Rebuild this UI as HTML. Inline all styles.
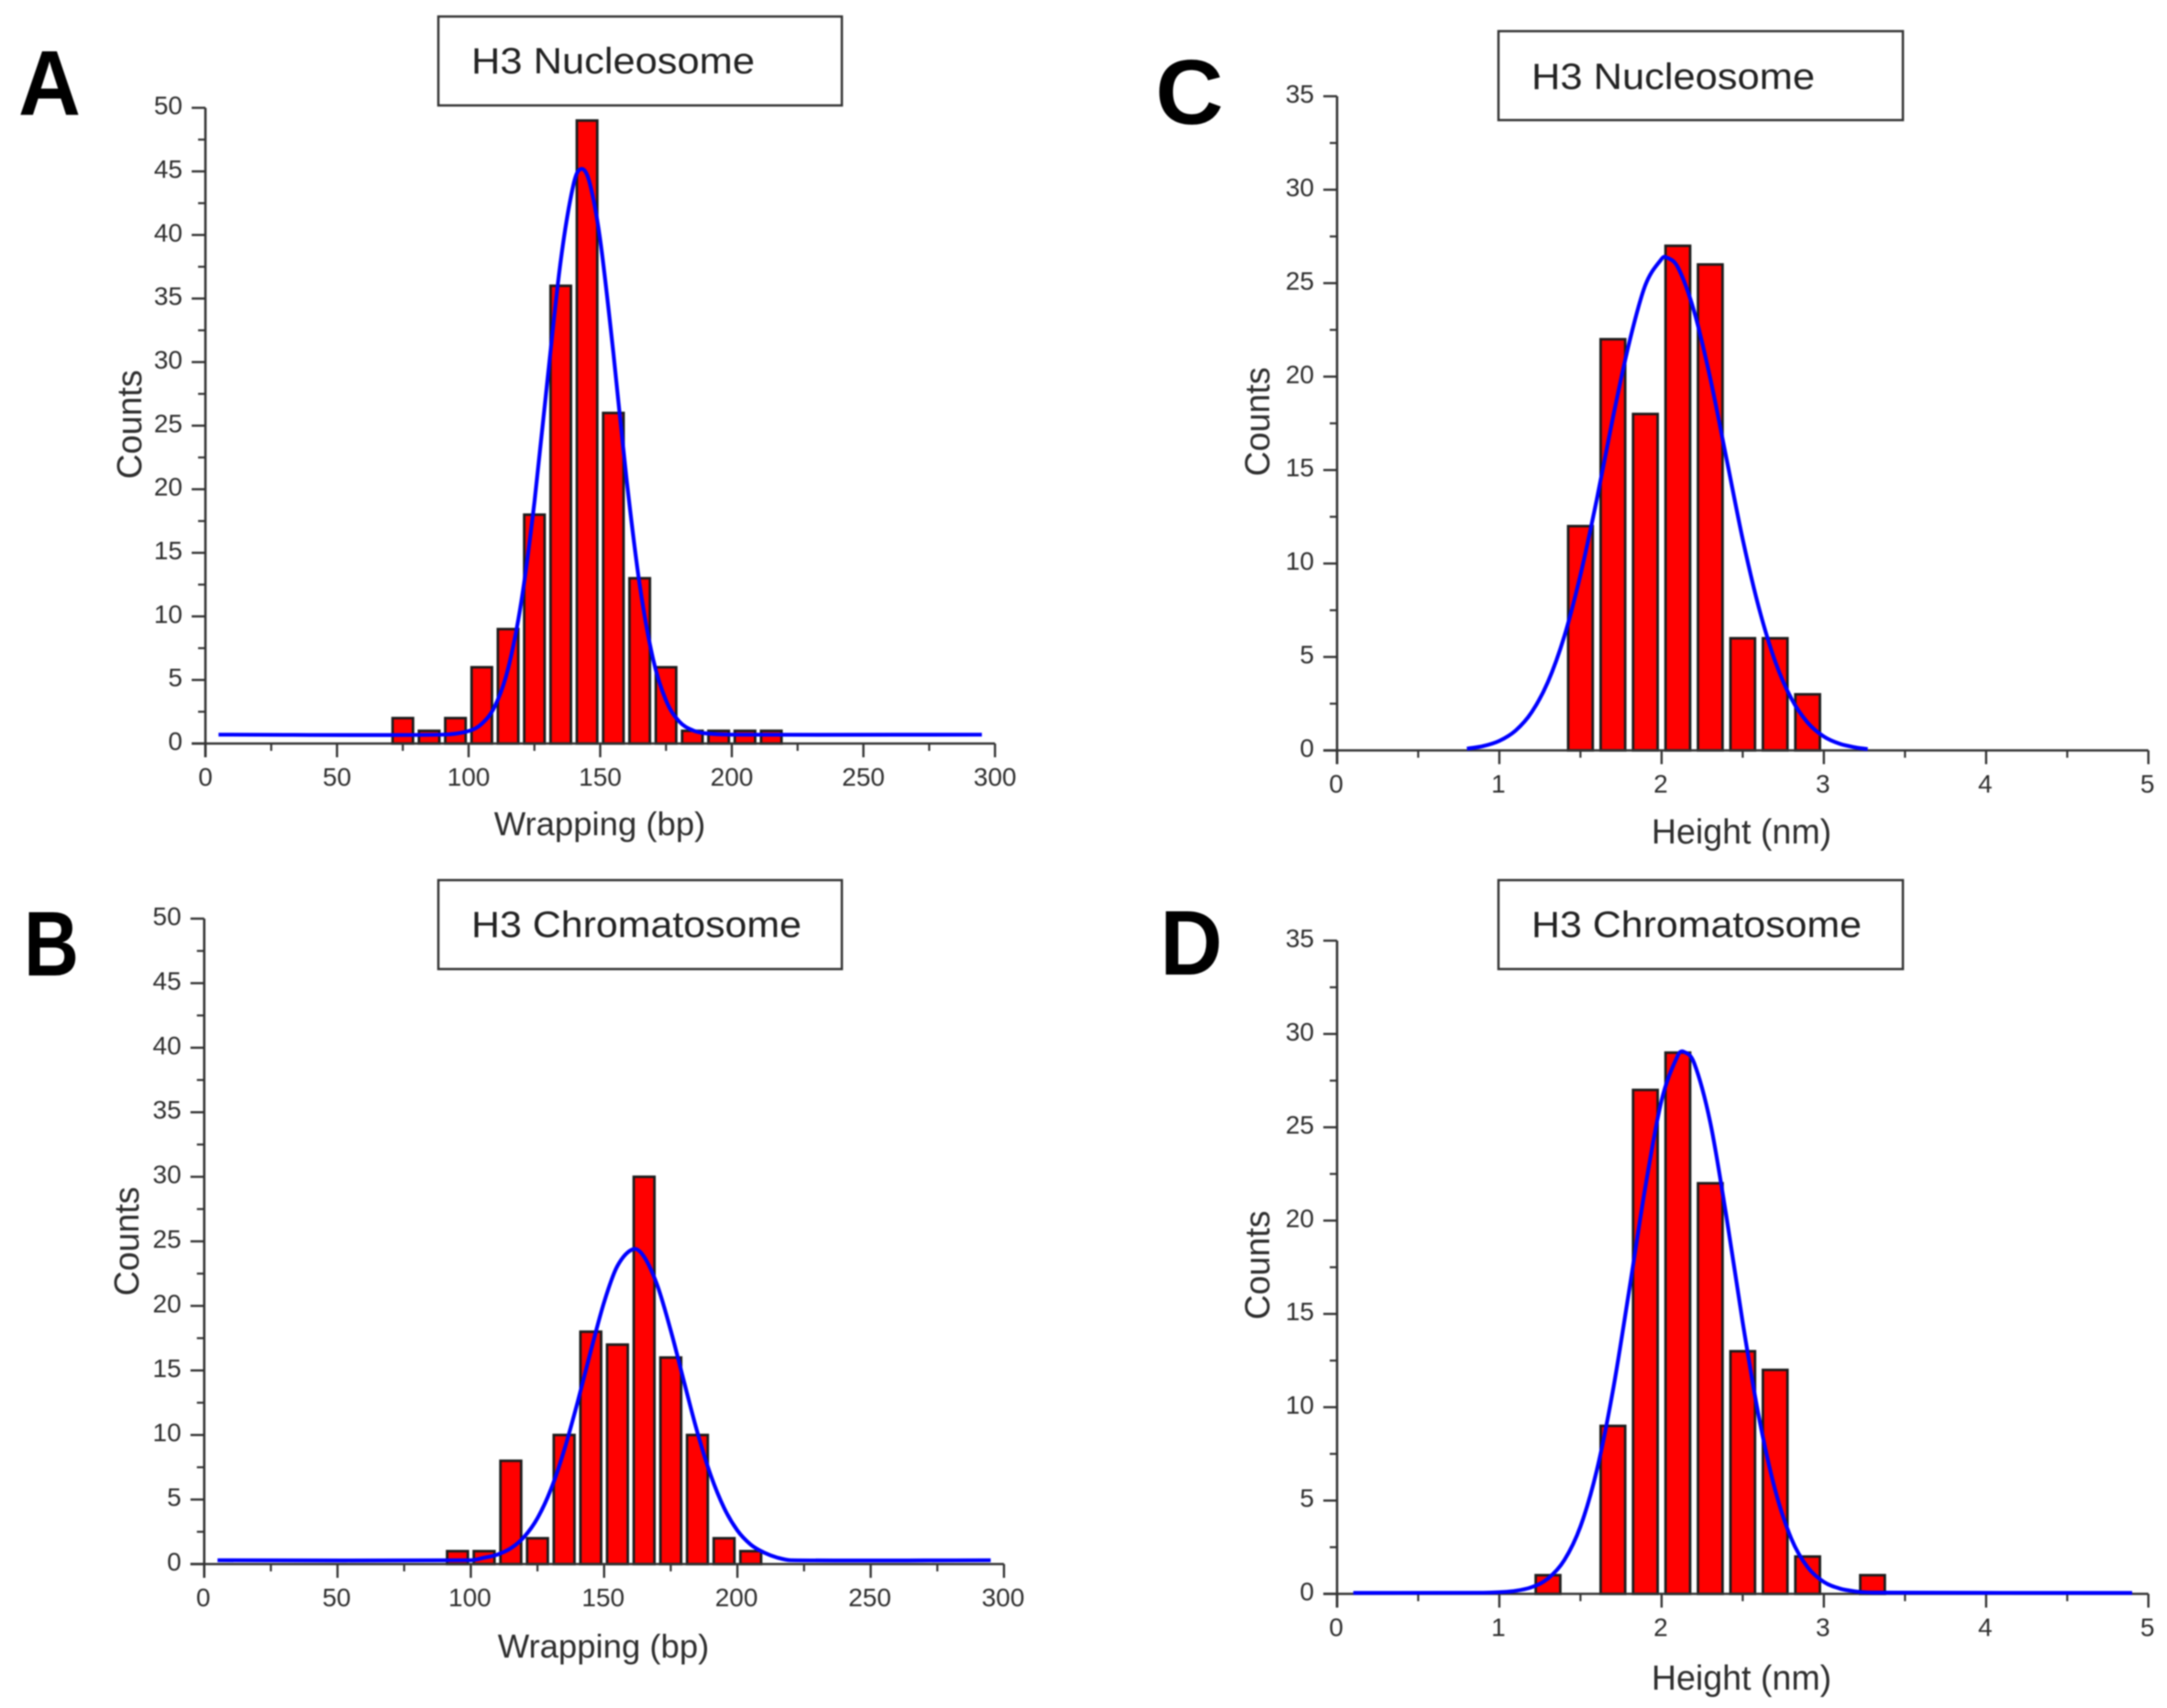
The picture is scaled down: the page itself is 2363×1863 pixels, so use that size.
<!DOCTYPE html>
<html lang="en">
<head>
<meta charset="utf-8">
<title>H3 Nucleosome and Chromatosome Histograms</title>
<style>
  html, body { margin: 0; padding: 0; background: #fff; }
  svg { display: block; filter: blur(0.7px); }
  text { font-family: "Liberation Sans", sans-serif; fill: #2e2e2e; }
  .letter { font-weight: bold; font-size: 100px; fill: #000; }
  .boxtitle { font-size: 40px; fill: #222; }
  .axistitle { font-size: 36.5px; }
  .heighttitle { font-size: 37.6px; }
  .ticklabel { font-size: 28px; }
  .box { fill: #fff; stroke: #333; stroke-width: 2.5; }
</style>
</head>
<body>
<svg id="figure" xmlns="http://www.w3.org/2000/svg" width="2363" height="1863" viewBox="0 0 2363 1863">
  <rect x="0" y="0" width="2363" height="1863" fill="#fff"/>

  <text class="letter" x="20" y="125" textLength="68" lengthAdjust="spacingAndGlyphs">A</text>
  <text class="letter" x="26" y="1064" textLength="60" lengthAdjust="spacingAndGlyphs">B</text>
  <text class="letter" x="1260" y="135" textLength="74" lengthAdjust="spacingAndGlyphs">C</text>
  <text class="letter" x="1265" y="1063" textLength="68" lengthAdjust="spacingAndGlyphs">D</text>

  <rect class="box" x="478" y="18" width="440" height="97"/>
  <text class="boxtitle" x="514" y="80" textLength="309" lengthAdjust="spacingAndGlyphs">H3 Nucleosome</text>
  <rect class="box" x="478" y="960" width="440" height="97"/>
  <text class="boxtitle" x="514" y="1022" textLength="360" lengthAdjust="spacingAndGlyphs">H3 Chromatosome</text>
  <rect class="box" x="1634" y="34" width="441" height="97"/>
  <text class="boxtitle" x="1670" y="97" textLength="309" lengthAdjust="spacingAndGlyphs">H3 Nucleosome</text>
  <rect class="box" x="1634" y="960" width="441" height="97"/>
  <text class="boxtitle" x="1670" y="1022" textLength="360" lengthAdjust="spacingAndGlyphs">H3 Chromatosome</text>

  <text class="axistitle" x="654" y="911" text-anchor="middle">Wrapping (bp)</text>
  <text class="axistitle" x="658" y="1808" text-anchor="middle">Wrapping (bp)</text>
  <text class="heighttitle" x="1899" y="920" text-anchor="middle">Height (nm)</text>
  <text class="heighttitle" x="1899" y="1843" text-anchor="middle">Height (nm)</text>
  <text class="heighttitle" text-anchor="middle" transform="translate(154 463) rotate(-90)">Counts</text>
  <text class="heighttitle" text-anchor="middle" transform="translate(151 1354) rotate(-90)">Counts</text>
  <text class="heighttitle" text-anchor="middle" transform="translate(1384 460) rotate(-90)">Counts</text>
  <text class="heighttitle" text-anchor="middle" transform="translate(1384 1380) rotate(-90)">Counts</text>
</svg>

<script>
// ---- Panel A data ----
const panelABins = [75, 85, 95, 105, 115, 125, 135, 145, 155, 165, 175, 185, 195, 205, 215];
const panelACounts = [2, 1, 2, 6, 9, 18, 36, 49, 26, 13, 6, 1, 1, 1, 1];
const panelAFitX = [5, 90, 100, 105, 110, 115, 120, 125, 130, 135, 140, 143, 146, 150, 155, 160, 165, 170, 175, 180, 185, 190, 200, 295];
const panelAFitY = [0.7, 0.7, 0.98, 1.55, 2.94, 5.88, 11.13, 19.0, 28.68, 38.0, 44.1, 45.2, 44.1, 39.6, 30.7, 20.8, 12.5, 6.72, 3.38, 1.74, 1.05, 0.8, 0.7, 0.7];

// ---- Panel B data ----
const panelBBins = [95, 105, 115, 125, 135, 145, 155, 165, 175, 185, 195, 205];
const panelBCounts = [1, 1, 8, 2, 10, 18, 17, 30, 16, 10, 2, 1];
const panelBFitX = [5, 100, 105, 110, 115, 120, 125, 130, 135, 140, 145, 150, 155, 161, 165, 170, 175, 180, 185, 190, 195, 200, 205, 210, 215, 220, 295];
const panelBFitY = [0.3, 0.3, 0.49, 0.74, 1.22, 2.1, 3.56, 5.77, 8.8, 12.5, 16.5, 20.3, 23.1, 24.4, 23.8, 21.57, 18.1, 14.1, 10.2, 6.88, 4.35, 2.6, 1.51, 0.89, 0.5, 0.3, 0.3];

// ---- Panel C data ----
const panelCBins = [1.5, 1.7, 1.9, 2.1, 2.3, 2.5, 2.7, 2.9];
const panelCCounts = [12, 22, 18, 27, 26, 6, 6, 3];
const panelCFitX = [0.8, 0.9, 1.0, 1.1, 1.2, 1.3, 1.4, 1.5, 1.6, 1.7, 1.8, 1.9, 2.0, 2.025, 2.1, 2.2, 2.3, 2.4, 2.5, 2.6, 2.7, 2.8, 2.9, 3.0, 3.1, 3.2, 3.27];
const panelCFitY = [0.09, 0.23, 0.51, 1.06, 2.05, 3.67, 6.09, 9.39, 13.4, 17.8, 21.8, 24.9, 26.3, 26.4, 25.85, 23.5, 19.9, 15.6, 11.3, 7.63, 4.77, 2.77, 1.49, 0.74, 0.35, 0.15, 0.07];

// ---- Panel D data ----
const panelDBins = [1.3, 1.7, 1.9, 2.1, 2.3, 2.5, 2.7, 2.9, 3.3];
const panelDCounts = [1, 9, 27, 29, 22, 13, 12, 2, 1];
const panelDFitX = [0.1, 0.9, 1.0, 1.1, 1.2, 1.3, 1.4, 1.5, 1.6, 1.7, 1.8, 1.9, 2.0, 2.1, 2.135, 2.2, 2.3, 2.4, 2.5, 2.6, 2.7, 2.8, 2.9, 3.0, 3.1, 3.2, 3.3, 4.9];
const panelDFitY = [0.05, 0.06, 0.09, 0.16, 0.36, 0.82, 1.8, 3.61, 6.59, 10.89, 16.25, 21.81, 26.45, 28.85, 29.05, 28.45, 25.25, 20.17, 14.55, 9.47, 5.57, 2.95, 1.43, 0.64, 0.28, 0.13, 0.07, 0.05];

// ---- Tick labels ----
const wrappingTicks = [0, 50, 100, 150, 200, 250, 300];
const heightTicks = [0, 1, 2, 3, 4, 5];
const wrappingCountTicks = [0, 5, 10, 15, 20, 25, 30, 35, 40, 45, 50];
const heightCountTicks = [0, 5, 10, 15, 20, 25, 30, 35];

const svg = document.getElementById('figure');
const NS = 'http://www.w3.org/2000/svg';

function make(tag, attrs) {
  const el = document.createElementNS(NS, tag);
  for (const k in attrs) el.setAttribute(k, attrs[k]);
  svg.appendChild(el);
  return el;
}

// Smooth path through the read-off curve samples (handles never pass the next sample in x)
function smoothPath(px, py) {
  const slope = i => {
    const a = Math.max(i - 1, 0);
    const b = Math.min(i + 1, px.length - 1);
    return (py[b] - py[a]) / (px[b] - px[a]);
  };
  let d = 'M' + px[0].toFixed(1) + ' ' + py[0].toFixed(1);
  for (let i = 0; i < px.length - 1; i++) {
    const h = (px[i + 1] - px[i]) / 3;
    d += ' C' + (px[i] + h).toFixed(1) + ' ' + (py[i] + slope(i) * h).toFixed(1) +
         ' ' + (px[i + 1] - h).toFixed(1) + ' ' + (py[i + 1] - slope(i + 1) * h).toFixed(1) +
         ' ' + px[i + 1].toFixed(1) + ' ' + py[i + 1].toFixed(1);
  }
  return d;
}

function drawPanel(id, frame, bins, counts, fitX, fitY, xTicks, yTicks, barWidth, labelDx) {
  const xScale = v => frame.left + (v - xTicks[0]) / (xTicks[xTicks.length - 1] - xTicks[0]) * (frame.right - frame.left);
  const yScale = v => frame.bottom - (v - yTicks[0]) / (yTicks[yTicks.length - 1] - yTicks[0]) * (frame.bottom - frame.top);

  // bars
  bins.forEach((b, i) => {
    const x0 = xScale(b - barWidth / 2);
    const x1 = xScale(b + barWidth / 2);
    const yTop = yScale(counts[i]);
    const bar = make('rect', { x: x0 + 1.2, y: yTop, width: x1 - x0 - 2.4, height: frame.bottom - yTop, fill: '#ff0000', stroke: '#1c1c1c', 'stroke-width': 2.8 });
    
    
  });

  // axes
  const xAxis = make('line', { x1: frame.left - 15, y1: frame.bottom, x2: frame.right, y2: frame.bottom, stroke: '#333', 'stroke-width': 2.6 });
  
  
  const yAxis = make('line', { x1: frame.left, y1: frame.top, x2: frame.left, y2: frame.bottom + 15, stroke: '#333', 'stroke-width': 2.6 });
  
  

  // x ticks
  xTicks.forEach((t, i) => {
    const x = xScale(t);
    const tick = make('line', { x1: x, y1: frame.bottom, x2: x, y2: frame.bottom + 15, stroke: '#333', 'stroke-width': 2.4 });
    
    
    const label = make('text', { x: x + labelDx, y: frame.bottom + 46, 'text-anchor': 'middle', class: 'ticklabel' });
    label.textContent = t;
    
    
    if (i < xTicks.length - 1) {
      const mx = xScale((t + xTicks[i + 1]) / 2);
      const minor = make('line', { x1: mx, y1: frame.bottom, x2: mx, y2: frame.bottom + 8, stroke: '#333', 'stroke-width': 2.2 });
      
      
    }
  });

  // y ticks
  yTicks.forEach((t, i) => {
    const y = yScale(t);
    const tick = make('line', { x1: frame.left - 15, y1: y, x2: frame.left, y2: y, stroke: '#333', 'stroke-width': 2.4 });
    
    
    const label = make('text', { x: frame.left - 25, y: y + 7, 'text-anchor': 'end', class: 'ticklabel' });
    label.textContent = t;
    
    
    if (i < yTicks.length - 1) {
      const my = yScale((t + yTicks[i + 1]) / 2);
      const minor = make('line', { x1: frame.left - 8, y1: my, x2: frame.left, y2: my, stroke: '#333', 'stroke-width': 2.2 });
      
      
    }
  });

  // fit curve
  const curve = make('path', { d: smoothPath(fitX.map(xScale), fitY.map(yScale)), fill: 'none', stroke: '#0000ff', 'stroke-width': 4.2, 'stroke-linejoin': 'round' });
  
  
}

drawPanel('a', { left: 224, right: 1085, top: 117.6, bottom: 811 }, panelABins, panelACounts, panelAFitX, panelAFitY, wrappingTicks, wrappingCountTicks, 8.6, 0);
drawPanel('b', { left: 222.7, right: 1094.8, top: 1002, bottom: 1706 }, panelBBins, panelBCounts, panelBFitX, panelBFitY, wrappingTicks, wrappingCountTicks, 8.6, -1);
drawPanel('c', { left: 1458, right: 2342.7, top: 105, bottom: 818.5 }, panelCBins, panelCCounts, panelCFitX, panelCFitY, heightTicks, heightCountTicks, 0.165, -1);
drawPanel('d', { left: 1458, right: 2342.7, top: 1026, bottom: 1738.5 }, panelDBins, panelDCounts, panelDFitX, panelDFitY, heightTicks, heightCountTicks, 0.165, -1);
</script>
</body>
</html>
